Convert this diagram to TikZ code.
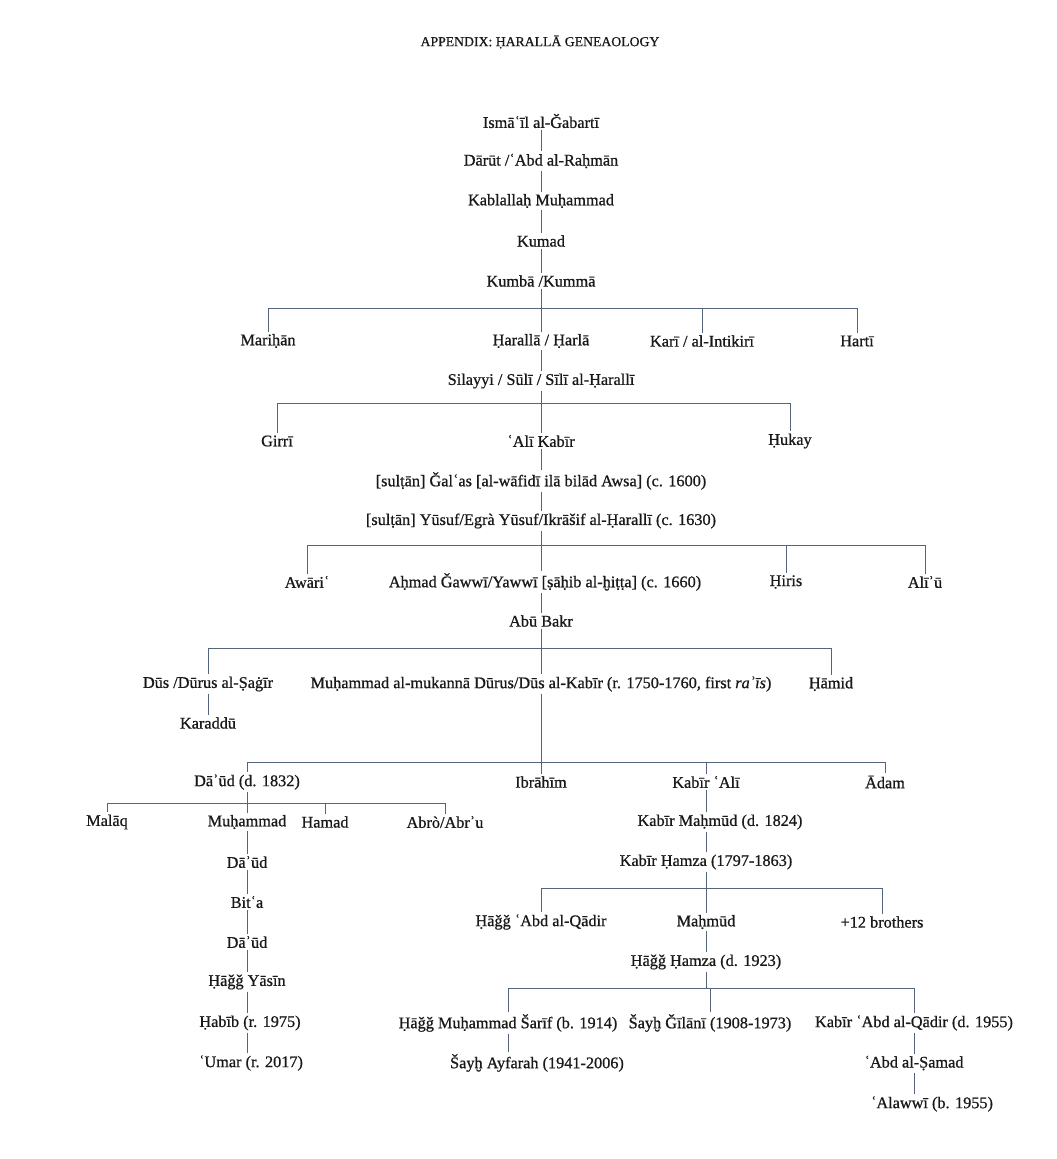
\documentclass[tikz,border=0pt]{standalone}
\usepackage{fontspec}
\setmainfont{Liberation Serif}[FakeBold=0.8]
\usepackage{tikz}
\usetikzlibrary{positioning}
\definecolor{kinline}{RGB}{84,100,122}
\definecolor{kintext}{RGB}{25,25,25}

\begin{document}
\begin{tikzpicture}[x=0.75pt, y=-0.75pt,
    person/.style={inner sep=1.5pt, text=kintext, font=\fontsize{12.2}{14}\selectfont},
    kin/.style={draw=kinline, line width=0.6pt}]
  \useasboundingbox (0,0) rectangle (1056,1159);
  \node[person, font=\fontsize{10.3}{12}\selectfont] (title) at (540,42) {APPENDIX: ḤARALLĀ GENEAOLOGY};

  % trunk
  \node[person] (ismail) at (541,121) {Ismāʿīl al-Ǧabartī};
  \node[person] (darut) at (541,161) {Dārūt /ʿAbd al-Raḥmān};
  \node[person] (kablallah) at (541,201) {Kablallaḥ Muḥammad};
  \node[person] (kumad) at (541,241) {Kumad};
  \node[person] (kumba) at (541,281) {Kumbā /Kummā};
  \coordinate (b1) at (541,308);
  \node[person] (marihan) at (268,341) {Mariḥān};
  \node[person] (haralla) at (541,341) {Ḥarallā / Ḥarlā};
  \node[person] (kari) at (702,341) {Karī / al-Intikirī};
  \node[person] (harti) at (857,341) {Hartī};
  \node[person] (silayyi) at (541,381) {Silayyi / Sūlī / Sīlī al-Ḥarallī};
  \coordinate (b2) at (541,403);
  \node[person] (girri) at (277,441) {Girrī};
  \node[person] (alikabir) at (541,441) {ʿAlī Kabīr};
  \node[person] (hukay) at (790,441) {Ḥukay};
  \node[person] (galas) at (541,481) {[sulṭān] Ǧalʿas [al-wāfidī ilā bilād Awsa] (c. 1600)};
  \node[person] (yusuf) at (541,521) {[sulṭān] Yūsuf/Egrà Yūsuf/Ikrāšif al-Ḥarallī (c. 1630)};
  \coordinate (b3) at (541,545);
  \node[person] (awari) at (307,582) {Awāriʿ};
  \node[person] (ahmad) at (545,582) {Aḥmad Ǧawwī/Yawwī [ṣāḥib al-ḫiṭṭa] (c. 1660)};
  \node[person] (hiris) at (786,582) {Ḥiris};
  \node[person] (aliu) at (925,582) {Alīʾū};
  \node[person] (abubakr) at (541,621) {Abū Bakr};
  \coordinate (b4) at (541,648);
  \node[person] (dus) at (208,684) {Dūs /Dūrus al-Ṣaġīr};
  \node[person] (mukanna) at (541,684) {Muḥammad al-mukannā Dūrus/Dūs al-Kabīr (r. 1750-1760, first \textit{raʾīs})};
  \node[person] (hamid) at (831,684) {Ḥāmid};
  \node[person] (karaddu) at (208,723) {Karaddū};
  \coordinate (b5) at (541,762);
  \node[person] (daud) at (247,782) {Dāʾūd (d. 1832)};
  \node[person] (ibrahim) at (541,782) {Ibrāhīm};
  \node[person] (kabirali) at (706,782) {Kabīr ʿAlī};
  \node[person] (adam) at (885,782) {Ādam};

  % Dāʾūd line
  \coordinate (b6) at (247,803);
  \node[person] (malaq) at (107,822) {Malāq};
  \node[person] (muhammad) at (247,822) {Muḥammad};
  \node[person] (hamad) at (325,822) {Hamad};
  \node[person] (abro) at (445,822) {Abrò/Abrʾu};
  \node[person] (daudb) at (247,862) {Dāʾūd};
  \node[person] (bita) at (247,902) {Bitʿa};
  \node[person] (daudc) at (247,942) {Dāʾūd};
  \node[person] (yasin) at (247,982) {Ḥāǧǧ Yāsīn};
  \node[person] (habib) at (250,1023) {Ḥabīb (r. 1975)};
  \node[person] (umar) at (251,1063) {ʿUmar (r. 2017)};

  % Kabīr ʿAlī line
  \node[person] (kmahmud) at (720,822) {Kabīr Maḥmūd (d. 1824)};
  \node[person] (khamza) at (706,862) {Kabīr Ḥamza (1797-1863)};
  \coordinate (b7) at (706,888);
  \node[person] (qadir) at (541,922) {Ḥāǧǧ ʿAbd al-Qādir};
  \node[person] (mahmud) at (706,922) {Maḥmūd};
  \node[person] (brothers) at (882,922) {+12 brothers};
  \node[person] (hhamza) at (706,962) {Ḥāǧǧ Ḥamza (d. 1923)};
  \coordinate (b8) at (706,988);
  \node[person] (sharif) at (508,1023) {Ḥāǧǧ Muḥammad Šarīf (b. 1914)};
  \node[person] (gilani) at (710,1023) {Šayḫ Ǧīlānī (1908-1973)};
  \node[person] (kabirabd) at (914,1023) {Kabīr ʿAbd al-Qādir (d. 1955)};
  \node[person] (ayfarah) at (537,1063) {Šayḫ Ayfarah (1941-2006)};
  \node[person] (samad) at (914,1063) {ʿAbd al-Ṣamad};
  \node[person] (alawwi) at (932,1104) {ʿAlawwī (b. 1955)};

  % connectors
  \draw[kin] (ismail) -- (darut) -- (kablallah) -- (kumad) -- (kumba) -- (b1);
  \draw[kin] (b1 -| marihan) -- (b1 -| harti);
  \foreach \c in {marihan,haralla,kari,harti} \draw[kin] (b1 -| \c) -- (\c);
  \draw[kin] (haralla) -- (silayyi) -- (b2);
  \draw[kin] (b2 -| girri) -- (b2 -| hukay);
  \foreach \c in {girri,alikabir,hukay} \draw[kin] (b2 -| \c) -- (\c);
  \draw[kin] (alikabir) -- (galas) -- (yusuf) -- (b3);
  \draw[kin] (b3 -| awari) -- (b3 -| aliu);
  \foreach \c in {awari,hiris,aliu} \draw[kin] (b3 -| \c) -- (\c);
  \draw[kin] (b3) -- (b3 |- ahmad.north);
  \draw[kin] (b3 |- ahmad.south) -- (abubakr) -- (b4);
  \draw[kin] (b4 -| dus) -- (b4 -| hamid);
  \foreach \c in {dus,mukanna,hamid} \draw[kin] (b4 -| \c) -- (\c);
  \draw[kin] (dus) -- (karaddu);
  \draw[kin] (mukanna) -- (b5);
  \draw[kin] (b5 -| daud) -- (b5 -| adam);
  \foreach \c in {daud,ibrahim,kabirali,adam} \draw[kin] (b5 -| \c) -- (\c);

  \draw[kin] (daud) -- (b6);
  \draw[kin] (b6 -| malaq) -- (b6 -| abro);
  \foreach \c in {malaq,muhammad,hamad,abro} \draw[kin] (b6 -| \c) -- (\c);
  \draw[kin] (muhammad) -- (daudb) -- (bita) -- (daudc) -- (yasin);
  \draw[kin] (yasin) -- (yasin |- habib.north);
  \draw[kin] (yasin |- habib.south) -- (yasin |- umar.north);

  \draw[kin] (kabirali) -- (kabirali |- kmahmud.north);
  \draw[kin] (kabirali |- kmahmud.south) -- (khamza);
  \draw[kin] (khamza) -- (b7);
  \draw[kin] (b7 -| qadir) -- (b7 -| brothers);
  \foreach \c in {qadir,mahmud,brothers} \draw[kin] (b7 -| \c) -- (\c);
  \draw[kin] (mahmud) -- (hhamza) -- (b8);
  \draw[kin] (b8 -| sharif) -- (b8 -| kabirabd);
  \foreach \c in {sharif,gilani,kabirabd} \draw[kin] (b8 -| \c) -- (\c);
  \draw[kin] (sharif) -- (sharif |- ayfarah.north);
  \draw[kin] (kabirabd) -- (samad);
  \draw[kin] (samad) -- (samad |- alawwi.north);
\end{tikzpicture}
\end{document}
